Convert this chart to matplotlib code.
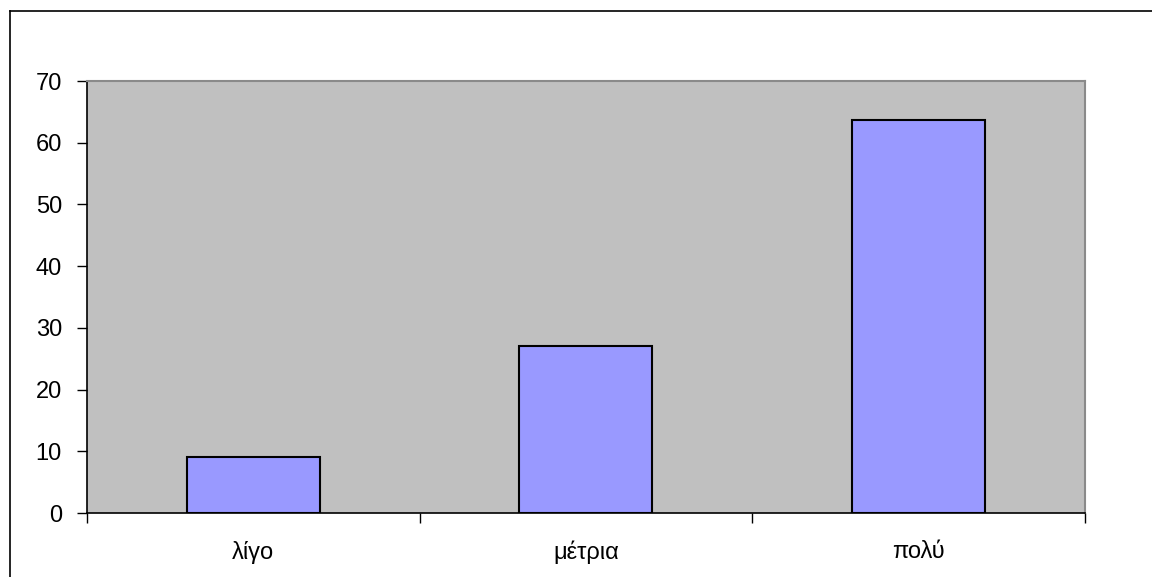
import matplotlib.pyplot as plt
import numpy as np
from matplotlib.lines import Line2D

categories = ["λίγο", "μέτρια", "πολύ"]
values = [9, 27, 63.7]
y_ticks = [0, 10, 20, 30, 40, 50, 60, 70]

plt.rcParams["font.family"] = ["Liberation Sans", "DejaVu Sans"]

fig = plt.figure(figsize=(11.52, 5.77), dpi=100)
ax = fig.add_axes([0.0755, 0.1109, 0.8663, 0.7487])

x = np.arange(len(categories))
ax.bar(x, values, width=0.4, color="#9999FF", edgecolor="black", linewidth=1.5, zorder=3)

ax.set_facecolor("#C0C0C0")
ax.set_xlim(-0.5, len(categories) - 0.5)
ax.set_ylim(0, 70)
ax.set_yticks(y_ticks)
ax.set_xticks(x)
ax.set_xticklabels(categories)
ax.set_xticks(np.arange(len(categories) + 1) - 0.5, minor=True)

ax.tick_params(axis="y", direction="out", length=7, width=1, labelsize=17, pad=11)
ax.tick_params(axis="x", which="major", length=0, labelsize=17, pad=20)
ax.tick_params(axis="x", which="minor", direction="out", length=7, width=1)

for side in ["top", "right"]:
    ax.spines[side].set_color("#8a8a8a")
    ax.spines[side].set_linewidth(1.5)
ax.spines["left"].set_color("black")
ax.spines["bottom"].set_color("black")
ax.spines["left"].set_linewidth(1.2)
ax.spines["bottom"].set_linewidth(1.2)

# outer chart frame
fig.add_artist(Line2D([10 / 1152, 10 / 1152], [0, 1 - 11 / 577], color="black", linewidth=1.2, transform=fig.transFigure))
fig.add_artist(Line2D([10 / 1152, 1], [1 - 11 / 577, 1 - 11 / 577], color="black", linewidth=1.2, transform=fig.transFigure))

fig.savefig("out.png", dpi=100)
